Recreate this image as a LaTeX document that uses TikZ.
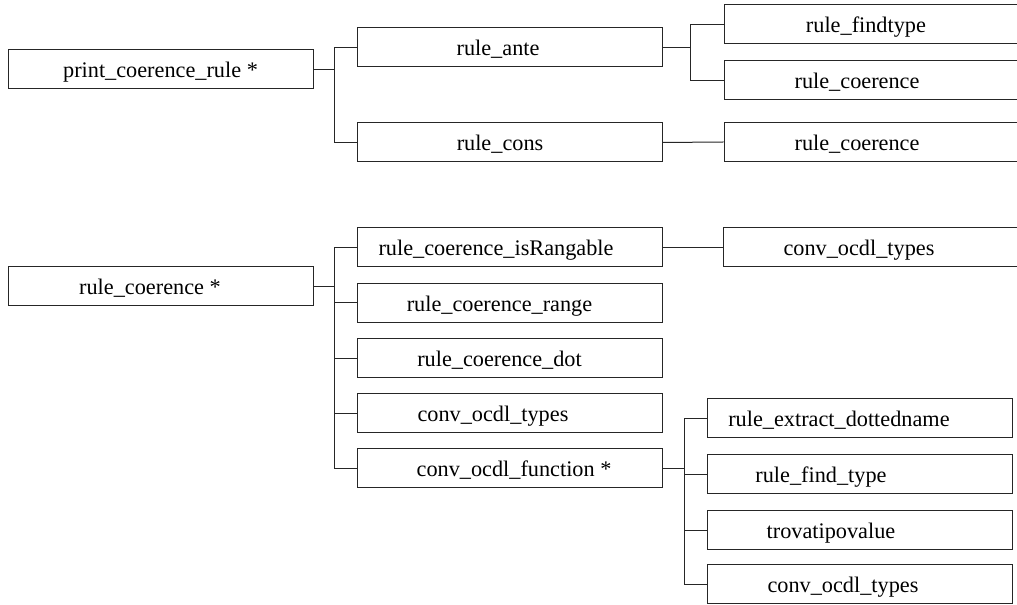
\documentclass[tikz,border=0pt]{standalone}
\usepackage{fontspec}
\setmainfont{Liberation Serif}
\begin{document}
\begin{tikzpicture}[x=0.75pt,y=-0.75pt,
  box/.style={draw=black!85,line width=0.75pt,minimum width=228.75pt,minimum height=29.25pt,inner sep=0pt},
  lbl/.style={inner sep=0pt,font=\fontsize{16.7pt}{18pt}\selectfont,text height=12.3pt,text depth=0pt},
  conn/.style={draw=black!85,line width=0.75pt}]
\useasboundingbox (0,0) rectangle (1017,605);
\fill[white] (0,0) rectangle (1017,605);
\clip (0,0) rectangle (1017,605);

% junction columns
\coordinate (ja) at (334,0);
\coordinate (jb) at (690,0);
\coordinate (jc) at (334,0);
\coordinate (jd) at (684,0);

% first call tree
\node[box,label={[lbl]center:print\_coerence\_rule *}] (pcr) at (160.5,69.5) {};
\node[box,label={[lbl,xshift=-8.6pt]center:rule\_ante}] (ante) at (509.5,47.5) {};
\node[box,label={[lbl,xshift=-7.1pt]center:rule\_cons}] (cons) at (509.5,142.5) {};
\node[box,label={[lbl,xshift=-7.9pt]center:rule\_findtype}] (find) at (876.5,24.5) {};
\node[box,label={[lbl,xshift=-14.6pt]center:rule\_coerence}] (coa) at (876.5,80.5) {};
\node[box,label={[lbl,xshift=-14.6pt]center:rule\_coerence}] (cob) at (876.5,142) {};

\draw[conn] (pcr.east) -- (pcr.east -| ja);
\draw[conn] (ante.west) -| (ja |- cons) -- (cons.west);
\draw[conn] (ante.east) -- (ante.east -| jb);
\draw[conn] (find.west) -| (jb |- coa) -- (coa.west);
\draw[conn] (cons.east) -- (cob.west);

% second call tree
\node[box,label={[lbl,xshift=-7.9pt]center:rule\_coerence *}] (rc) at (160.5,286.5) {};
\node[box,label={[lbl,xshift=-10.1pt]center:rule\_coerence\_isRangable}] (isr) at (509.5,247.5) {};
\node[box,label={[lbl,xshift=-7.5pt]center:rule\_coerence\_range}] (rng) at (509.5,303) {};
\node[box,label={[lbl,xshift=-7.5pt]center:rule\_coerence\_dot}] (dot) at (509.5,358.5) {};
\node[box,label={[lbl,xshift=-12.4pt]center:conv\_ocdl\_types}] (typ) at (509.5,413.5) {};
\node[box,label={[lbl,xshift=3.4pt]center:conv\_ocdl\_function *}] (fun) at (509.5,468.5) {};
\node[box,label={[lbl,xshift=-12.4pt]center:conv\_ocdl\_types}] (typb) at (875.5,247.5) {};
\node[box,label={[lbl,xshift=-15.4pt]center:rule\_extract\_dottedname}] (ext) at (859.5,418.5) {};
\node[box,label={[lbl,xshift=-28.9pt]center:rule\_find\_type}] (fty) at (859.5,474.5) {};
\node[box,label={[lbl,xshift=-21.4pt]center:trovatipovalue}] (tro) at (859.5,530) {};
\node[box,label={[lbl,xshift=-12.4pt]center:conv\_ocdl\_types}] (typc) at (859.5,584) {};

\draw[conn] (rc.east) -- (rc.east -| jc);
\draw[conn] (isr.west) -| (jc |- fun) -- (fun.west);
\draw[conn] (rng.west) -- (rng.west -| jc);
\draw[conn] (dot.west) -- (dot.west -| jc);
\draw[conn] (typ.west) -- (typ.west -| jc);
\draw[conn] (isr.east) -- (typb.west);
\draw[conn] (fun.east) -- (fun.east -| jd);
\draw[conn] (ext.west) -| (jd |- typc) -- (typc.west);
\draw[conn] (fty.west) -- (fty.west -| jd);
\draw[conn] (tro.west) -- (tro.west -| jd);
\end{tikzpicture}
\end{document}
